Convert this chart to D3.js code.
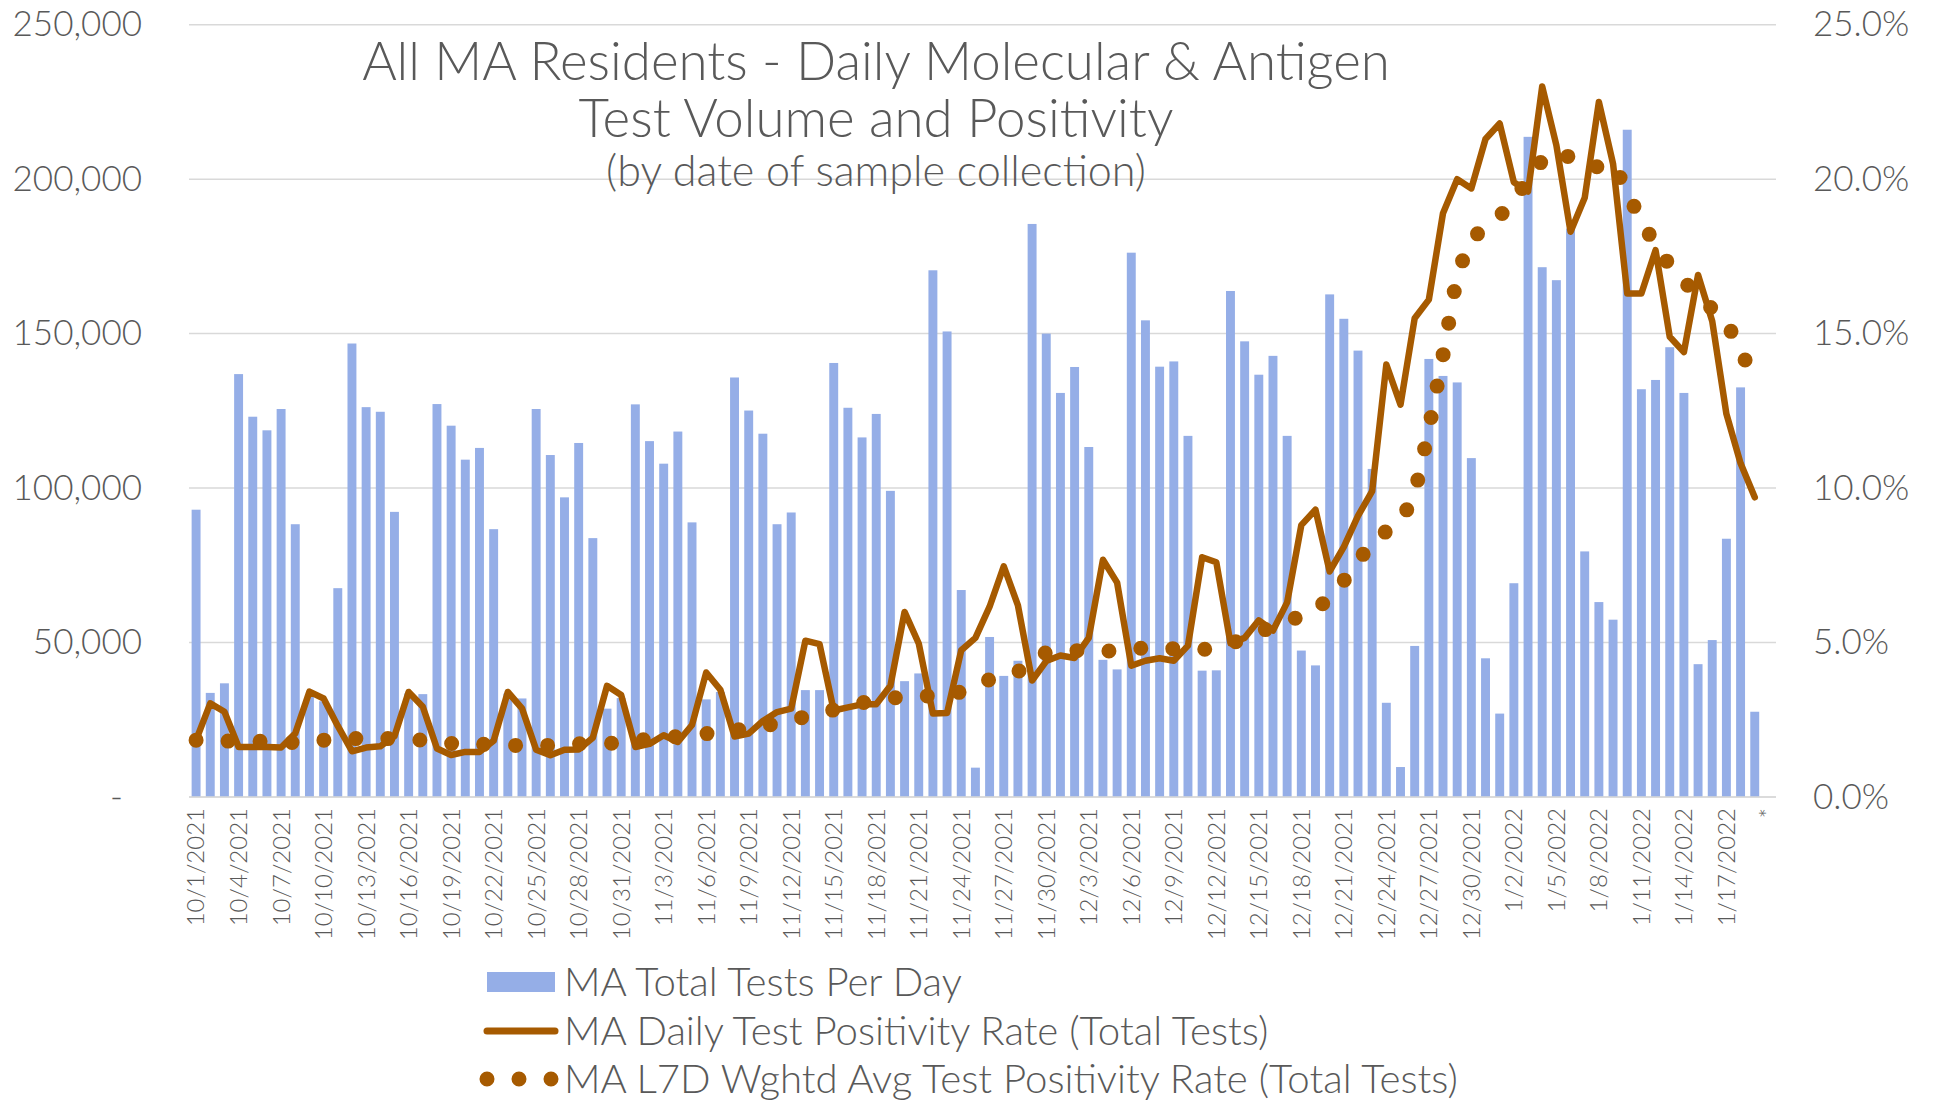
<!DOCTYPE html>
<html>
<head>
<meta charset="utf-8">
<script src="https://cdn.jsdelivr.net/npm/d3@7"></script>
<style>
    body { margin: 0; background: #fff; }
    text { font-family: Lato, "Open Sans", sans-serif; font-weight: 300; fill: #595959; }
</style>
</head>
<body>
<div id="chart"></div>
<script>

// ---- data ----

// one category per day, 10/1/2021 .. 1/20/2022 (last slot is the "*" footnote, no data)
let categories = d3.timeDay.range(new Date(2021, 9, 1), new Date(2022, 0, 21))
    .map(d3.timeFormat("%-m/%-d/%Y"));

// every 3rd category is labelled
let tickLabels = ["10/1/2021", "10/4/2021", "10/7/2021", "10/10/2021", "10/13/2021", "10/16/2021",
    "10/19/2021", "10/22/2021", "10/25/2021", "10/28/2021", "10/31/2021", "11/3/2021", "11/6/2021",
    "11/9/2021", "11/12/2021", "11/15/2021", "11/18/2021", "11/21/2021", "11/24/2021", "11/27/2021",
    "11/30/2021", "12/3/2021", "12/6/2021", "12/9/2021", "12/12/2021", "12/15/2021", "12/18/2021",
    "12/21/2021", "12/24/2021", "12/27/2021", "12/30/2021", "1/2/2022", "1/5/2022", "1/8/2022",
    "1/11/2022", "1/14/2022", "1/17/2022", "*"];

// MA Total Tests Per Day
let totalTests = [
    93000, 33700, 36800, 136900, 123100, 118700, 125600, 88300, 33000, 31000,
    67600, 146800, 126200, 124700, 92300, 33500, 33300, 127200, 120200, 109200,
    113000, 86700, 33500, 31900, 125600, 110700, 97000, 114600, 83800, 28600,
    32000, 127100, 115200, 107900, 118300, 88900, 31600, 34000, 135800, 125100,
    117600, 88300, 92100, 34600, 34600, 140500, 126000, 116400, 124000, 99100,
    37500, 40000, 170500, 150700, 67000, 9500, 51800, 39200, 44100, 185500,
    150000, 130800, 139200, 113300, 44400, 41300, 176200, 154300, 139300, 141000,
    116900, 40900, 41000, 163800, 147500, 136700, 142800, 116900, 47400, 42600,
    162700, 154800, 144500, 106200, 30500, 9700, 48900, 141800, 136300, 134200,
    109700, 44900, 27000, 69200, 213700, 171500, 167300, 184000, 79500, 63100,
    57400, 216000, 132000, 135000, 145600, 130800, 43000, 50800, 83600, 132600,
    27600
];

// MA Daily Test Positivity Rate (Total Tests), percent
let dailyRate = [
    1.84, 3.03, 2.76, 1.62, 1.62, 1.62, 1.60, 2.06, 3.41, 3.19,
    2.30, 1.48, 1.60, 1.64, 1.97, 3.40, 2.92, 1.57, 1.36, 1.46,
    1.46, 1.82, 3.40, 2.87, 1.53, 1.35, 1.53, 1.54, 1.92, 3.60,
    3.30, 1.62, 1.72, 2.00, 1.78, 2.33, 4.03, 3.47, 1.96, 2.05,
    2.46, 2.75, 2.86, 5.06, 4.95, 2.80, 2.90, 3.00, 3.00, 3.60,
    5.99, 4.97, 2.70, 2.72, 4.75, 5.15, 6.16, 7.47, 6.20, 3.77,
    4.40, 4.58, 4.50, 5.15, 7.68, 6.94, 4.25, 4.41, 4.49, 4.41,
    4.90, 7.76, 7.60, 4.98, 5.15, 5.72, 5.39, 6.30, 8.80, 9.30,
    7.30, 8.10, 9.10, 9.90, 14.0, 12.7, 15.5, 16.1, 18.9, 20.0,
    19.7, 21.3, 21.8, 19.9, 19.6, 23.0, 21.1, 18.3, 19.4, 22.5,
    20.5, 16.3, 16.3, 17.7, 14.9, 14.4, 16.9, 15.4, 12.4, 10.8,
    9.7
];

// MA L7D Wghtd Avg Test Positivity Rate (Total Tests), percent
let l7dRate = [
    1.84, 1.83, 1.81, 1.81, 1.81, 1.80, 1.77, 1.76, 1.80, 1.84,
    1.87, 1.89, 1.89, 1.89, 1.89, 1.87, 1.84, 1.78, 1.73, 1.72,
    1.71, 1.69, 1.67, 1.67, 1.67, 1.67, 1.69, 1.72, 1.73, 1.73,
    1.76, 1.82, 1.88, 1.92, 1.96, 2.00, 2.05, 2.10, 2.16, 2.22,
    2.30, 2.38, 2.48, 2.60, 2.72, 2.82, 2.95, 3.05, 3.14, 3.20,
    3.24, 3.26, 3.28, 3.32, 3.40, 3.60, 3.80, 3.95, 4.05, 4.45,
    4.68, 4.73, 4.74, 4.72, 4.71, 4.75, 4.80, 4.82, 4.82, 4.80,
    4.78, 4.77, 4.85, 4.95, 5.15, 5.35, 5.50, 5.70, 5.85, 6.00,
    6.50, 7.00, 7.60, 8.30, 8.60, 8.90, 9.80, 11.9, 14.3, 16.9,
    18.1, 18.4, 18.8, 19.3, 20.0, 20.6, 20.9, 20.7, 20.4, 20.4,
    20.5, 19.6, 18.6, 17.9, 17.2, 16.7, 16.2, 15.8, 15.4, 14.4,
    13.6
];

let leftTicks = [0, 50000, 100000, 150000, 200000, 250000];
let rightTicks = [0, 0.05, 0.10, 0.15, 0.20, 0.25];
let titleLines = ["All MA Residents - Daily Molecular & Antigen", "Test Volume and Positivity", "(by date of sample collection)"];
let legendLabels = ["MA Total Tests Per Day", "MA Daily Test Positivity Rate (Total Tests)", "MA L7D Wghtd Avg Test Positivity Rate (Total Tests)"];

// ---- drawing ----

const width = 1934, height = 1103;
const plot = {left: 189, right: 1776, top: 24.7, bottom: 797};
const barColor = "#95aee7", lineColor = "#a65a00", gridColor = "#d9d9d9";

let svg = d3.select("#chart").append("svg")
    .attr("width", width)
    .attr("height", height);

svg.append("rect").attr("width", width).attr("height", height).attr("fill", "#fff");

// scales
let x = d3.scaleBand()
    .domain(categories)
    .range([plot.left, plot.right])
    .paddingInner(0.37)
    .paddingOuter(0.185);

let yLeft = d3.scaleLinear().domain([0, 250000]).range([plot.bottom, plot.top]);
let yRight = d3.scaleLinear().domain([0, 0.25]).range([plot.bottom, plot.top]);

let cx = i => x(categories[i]) + x.bandwidth() / 2;

// gridlines
svg.append("g")
    .selectAll("line")
    .data(leftTicks)
    .enter()
    .append("line")
    .attr("x1", plot.left)
    .attr("x2", plot.right)
    .attr("y1", d => yLeft(d))
    .attr("y2", d => yLeft(d))
    .attr("stroke", gridColor)
    .attr("stroke-width", 1.5);

// bars
svg.append("g")
    .selectAll("rect")
    .data(totalTests)
    .enter()
    .append("rect")
    .attr("x", (d, i) => x(categories[i]))
    .attr("width", x.bandwidth())
    .attr("y", d => yLeft(d))
    .attr("height", d => yLeft(0) - yLeft(d))
    .attr("fill", barColor);

// title (drawn over the gridlines, like the original)
let title = svg.append("g").attr("class", "title");
let titleY = [80, 137, 186];
let titleW = [1028, 592, 540];
let titleSizes = [];
titleLines.forEach((t, k) => {
    let el = title.append("text")
        .attr("x", 876)
        .attr("y", titleY[k])
        .attr("text-anchor", "middle")
        .attr("font-size", 40)
        .text(t);
    let w = el.node().getComputedTextLength();
    titleSizes.push(40 * titleW[k] / w);
});
// lines 1 & 2 share one size, line 3 is smaller
title.selectAll("text")
    .attr("font-size", (d, k) => k < 2 ? titleSizes[0] : titleSizes[2]);

// positivity lines
let lineGen = d3.line()
    .x((d, i) => cx(i))
    .y(d => yRight(d / 100));

svg.append("path")
    .datum(dailyRate)
    .attr("d", lineGen)
    .attr("fill", "none")
    .attr("stroke", lineColor)
    .attr("stroke-width", 6.5)
    .attr("stroke-linejoin", "round")
    .attr("stroke-linecap", "round");

svg.append("path")
    .datum(l7dRate)
    .attr("d", lineGen)
    .attr("fill", "none")
    .attr("stroke", lineColor)
    .attr("stroke-width", 15)
    .attr("stroke-dasharray", "0 32")
    .attr("stroke-linecap", "round");

// left axis
let leftAxis = svg.append("g")
    .attr("transform", `translate(${plot.left}, 0)`)
    .call(d3.axisLeft(yLeft)
        .tickValues(leftTicks)
        .tickSize(0)
        .tickPadding(47)
        .tickFormat(d => d === 0 ? "-" : d3.format(",")(d)));
leftAxis.select(".domain").remove();
leftAxis.selectAll("text")
    .attr("font-family", null)
    .attr("font-size", 35)
    .attr("dx", d => d === 0 ? -19 : 0)
    .attr("fill", "#595959");

// right axis
let rightAxis = svg.append("g")
    .attr("transform", `translate(${plot.right}, 0)`)
    .call(d3.axisRight(yRight)
        .tickValues(rightTicks)
        .tickSize(0)
        .tickPadding(37)
        .tickFormat(d3.format(".1%")));
rightAxis.select(".domain").remove();
rightAxis.selectAll("text")
    .attr("font-family", null)
    .attr("font-size", 35)
    .attr("fill", "#595959");

// bottom axis
svg.append("line")
    .attr("x1", plot.left)
    .attr("x2", plot.right)
    .attr("y1", plot.bottom)
    .attr("y2", plot.bottom)
    .attr("stroke", gridColor)
    .attr("stroke-width", 1.5);

let bottomAxis = svg.append("g")
    .attr("transform", `translate(0, ${plot.bottom})`)
    .call(d3.axisBottom(x)
        .tickValues(categories.filter((d, i) => i % 3 === 0))
        .tickSize(0)
        .tickFormat((d, k) => tickLabels[k]));
bottomAxis.select(".domain").remove();
bottomAxis.selectAll("text")
    .attr("font-family", null)
    .attr("font-size", 24)
    .attr("fill", "#595959")
    .attr("transform", "rotate(-90)")
    .attr("text-anchor", "end")
    .attr("x", -11)
    .attr("y", 0)
    .attr("dy", "0.35em");

// legend
let legend = svg.append("g").attr("class", "legend");
let legendY = [982, 1031, 1079];

legend.append("rect")
    .attr("x", 487)
    .attr("y", legendY[0] - 10)
    .attr("width", 68)
    .attr("height", 20)
    .attr("fill", barColor);

legend.append("line")
    .attr("x1", 487)
    .attr("x2", 555)
    .attr("y1", legendY[1])
    .attr("y2", legendY[1])
    .attr("stroke", lineColor)
    .attr("stroke-width", 7)
    .attr("stroke-linecap", "round");

legend.append("line")
    .attr("x1", 487)
    .attr("x2", 552)
    .attr("y1", legendY[2])
    .attr("y2", legendY[2])
    .attr("stroke", lineColor)
    .attr("stroke-width", 15)
    .attr("stroke-dasharray", "0 32")
    .attr("stroke-linecap", "round");

let legendText = legend.selectAll(".legend-label")
    .data(legendLabels)
    .enter()
    .append("text")
    .attr("class", "legend-label")
    .attr("x", 564)
    .attr("y", (d, i) => legendY[i])
    .attr("dy", "0.35em")
    .attr("font-size", 34)
    .text(d => d);

// fit the legend font so the first label spans like the original
let lw = legendText.nodes()[0].getComputedTextLength();
legendText.attr("font-size", 34 * 398 / lw);

</script>
</body>
</html>
